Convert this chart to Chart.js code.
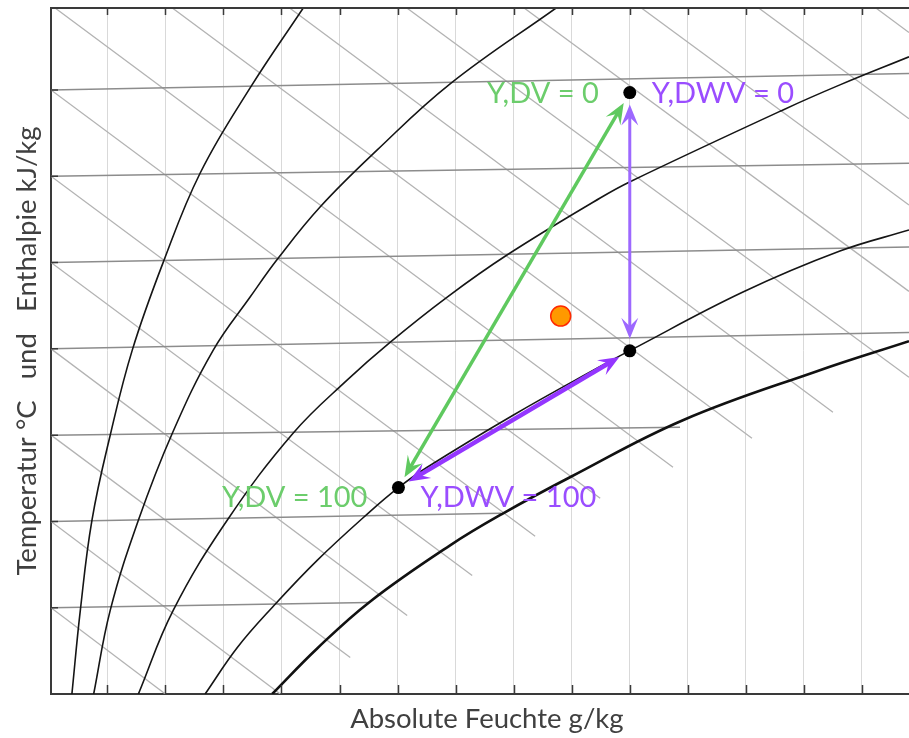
<!DOCTYPE html>
<html>
<head>
<meta charset="utf-8">
<script src="https://cdn.jsdelivr.net/npm/chart.js@4.4.1/dist/chart.umd.min.js"></script>
<style>
  html, body { margin: 0; padding: 0; background: #ffffff; }
  #wrap { width: 909px; height: 738px; }
</style>
</head>
<body>
<div id="wrap"><canvas id="hx" width="909" height="738"></canvas></div>
<script>
// ---- h,x-Diagramm: Werte ----
// Absolute Feuchte (g/kg): Rasterlinien alle 2 g/kg
const X_TICKS = [2, 4, 6, 8, 10, 12, 14, 16, 18, 20, 22, 24, 26, 28];
const X_RANGE = [0.06, 29.62];
// Temperatur (°C) an der linken Achse
const Y_TICKS = [-10, 0, 10, 20, 30, 40, 50];
const Y_RANGE = [-20, 59.5];

// Isothermen: Start auf der linken Achse bei der Temperatur, Ende [x, y]
const ISOTHERM_T = [-10, 0, 10, 20, 30, 40, 50];
const ISOTHERM_END = [[11.0, -9.4], [15.57, 0.94], [21.73, 10.9], [29.62, 21.9], [29.62, 31.8], [29.62, 41.5], [29.62, 51.9]];

// Isenthalpen (kJ/kg): Anfangs- und Endpunkt
const ENTHALPY_H = [-10, 0, 10, 20, 30, 40, 50, 60, 70, 80, 90, 100, 110, 120, 130];
const ENTHALPY_START = [[0.06, -10], [0.06, 0], [0.06, 10], [0.06, 20], [0.06, 30], [0.06, 40], [0.06, 50],
  [0.2, 59.5], [4.24, 59.5], [8.28, 59.5], [12.32, 59.5], [16.36, 59.5], [20.4, 59.5], [24.44, 59.5], [28.48, 59.5]];
const ENTHALPY_END = [[4.0, -20], [7.96, -20], [10.37, -15.77], [12.33, -10.9], [14.57, -6.26], [16.74, -1.73], [18.98, 2.68],
  [21.49, 6.28], [24.21, 9.64], [27.0, 12.66], [29.62, 16.7], [29.62, 26.66], [29.62, 36.66], [29.62, 46.66], [29.62, 56.66]];

// Linien gleicher relativer Feuchte, von trocken (links) bis Sättigung (rechts)
const RH_A = [[0.78, -20], [1.07, -10.31], [1.47, 0.13], [2.10, 9.99], [2.86, 19.85], [3.93, 30.06], [5.20, 40.38], [6.92, 50.24], [8.75, 59.5]];
const RH_B = [[1.53, -20], [2.10, -10.31], [3.07, 0.13], [4.24, 10.22], [5.65, 19.85], [6.92, 26.0], [7.89, 30.52], [9.33, 36.44], [11.30, 43.05], [13.81, 50.71], [17.46, 59.5]];
const RH_C = [[3.07, -20], [4.27, -10.31], [6.13, 0.13], [8.40, 10.22], [10.26, 16.37], [11.75, 20.78], [13.71, 26.0], [15.77, 30.87], [18.98, 37.48], [20.01, 39.37], [25.28, 47.69], [27.24, 50.59], [29.62, 53.84]];
const RH_D = [[5.37, -20], [6.48, -14.61], [7.68, -9.97], [9.23, -4.51], [11.06, 1.17], [12.03, 3.92], [13.02, 6.28], [15.98, 12.31], [18.87, 17.76], [19.99, 19.77], [23.90, 26.58], [27.24, 31.33], [29.62, 33.77]];
const SATURATION = [[7.68, -20], [9.23, -14.72], [11.06, -9.27], [13.81, -2.77], [15.64, 0.94], [17.94, 5.12], [21.83, 11.73], [26.45, 17.41], [29.62, 20.89]];

// Zustandspunkte
const STATE_X = [20.0, 20.0, 12.03];
const STATE_Y = [49.7, 19.77, 3.92];
const MARK_X = [17.62];
const MARK_Y = [23.8];

// Beschriftungen und Pfeile zwischen den Zustandspunkten
const LABEL_TEXT = ['Y,DV = 0', 'Y,DWV = 0', 'Y,DV = 100', 'Y,DWV = 100'];
const LABEL_AT = [0, 0, 2, 2];
const ARROW_FROM = [2, 0, 2];
const ARROW_TO = [0, 1, 1];

// ---- Darstellung ----
const GREEN = '#5fc95f';
const GREEN_TEXT = '#6ccd6c';
const PURPLE_TEXT = '#9a4dff';
const labelStyle = [
  { color: GREEN_TEXT, align: 'right', dx: -31, dy: 1 },
  { color: PURPLE_TEXT, align: 'left', dx: 22, dy: 1 },
  { color: GREEN_TEXT, align: 'right', dx: -31, dy: 10 },
  { color: PURPLE_TEXT, align: 'left', dx: 22, dy: 10 }
];
const arrowStyle = [
  { color: GREEN, width: 3.5 },
  { color: '#9d68ff', width: 3 },
  { color: '#9436ff', width: 4.5 }
];
const LABEL_FONT = '29px Lato';
const TITLE_FONT = { family: 'Lato', size: 27.5 };

const toPts = arr => arr.map(p => ({ x: p[0], y: p[1] }));
const datasets = [];

datasets.push({
  label: 'Zustand', data: STATE_X.map((x, i) => ({ x, y: STATE_Y[i] })),
  pointRadius: 6.5, pointBackgroundColor: '#000', pointBorderColor: '#000', pointBorderWidth: 0,
  showLine: false, order: 0
});
datasets.push({
  label: 'Messpunkt', data: MARK_X.map((x, i) => ({ x, y: MARK_Y[i] })),
  pointRadius: 10, pointBackgroundColor: '#ff9900', pointBorderColor: '#ff2a00', pointBorderWidth: 1.5,
  showLine: false, order: 0
});
[RH_A, RH_B, RH_C, RH_D].forEach((c, i) => datasets.push({
  label: 'phi' + i, data: toPts(c), showLine: true, borderColor: '#151515', borderWidth: 1.6,
  pointRadius: 0, tension: 0.4, order: 1
}));
datasets.push({
  label: 'Sättigung', data: toPts(SATURATION), showLine: true, borderColor: '#111', borderWidth: 2.6,
  pointRadius: 0, tension: 0.4, order: 1
});
ISOTHERM_T.forEach((t, i) => datasets.push({
  label: 't' + t, data: [{ x: X_RANGE[0], y: t }, { x: ISOTHERM_END[i][0], y: ISOTHERM_END[i][1] }],
  showLine: true, borderColor: '#8c8c8c', borderWidth: 1.5, pointRadius: 0, order: 2
}));
ENTHALPY_H.forEach((h, i) => datasets.push({
  label: 'h' + h, data: [toPts([ENTHALPY_START[i]])[0], toPts([ENTHALPY_END[i]])[0]],
  showLine: true, borderColor: '#b3b3b3', borderWidth: 1.3, pointRadius: 0, order: 3
}));

const framePlugin = {
  id: 'frame',
  afterDatasetsDraw(chart) {
    const { ctx, chartArea: a, scales: { x, y } } = chart;
    ctx.save();
    ctx.strokeStyle = '#3a3a3a';
    ctx.lineWidth = 2;
    ctx.beginPath();
    ctx.moveTo(a.left - 1, a.top); ctx.lineTo(a.right, a.top);
    ctx.stroke();
    ctx.lineWidth = 1.5;
    ctx.beginPath();
    X_TICKS.forEach(v => {
      const px = Math.round(x.getPixelForValue(v)) + 0.5;
      ctx.moveTo(px, a.bottom); ctx.lineTo(px, a.bottom - 9);
      ctx.moveTo(px, a.top); ctx.lineTo(px, a.top + 7);
    });
    Y_TICKS.forEach(v => {
      const py = y.getPixelForValue(v);
      ctx.moveTo(a.left, py); ctx.lineTo(a.left + 7, py);
    });
    ctx.stroke();

    // Pfeile
    const P = STATE_X.map((sx, i) => ({ x: x.getPixelForValue(sx), y: y.getPixelForValue(STATE_Y[i]) }));
    const gap = 12, headLen = 21, headHalf = 8.5;
    ARROW_FROM.forEach((f, i) => {
      const a0 = P[f], b0 = P[ARROW_TO[i]];
      const dx = b0.x - a0.x, dy = b0.y - a0.y, len = Math.hypot(dx, dy);
      const ux = dx / len, uy = dy / len;
      const s = { x: a0.x + ux * gap, y: a0.y + uy * gap };
      const e = { x: b0.x - ux * gap, y: b0.y - uy * gap };
      const st = arrowStyle[i];
      ctx.strokeStyle = st.color; ctx.fillStyle = st.color; ctx.lineWidth = st.width;
      ctx.lineCap = 'butt';
      ctx.beginPath();
      ctx.moveTo(s.x + ux * headLen * 0.5, s.y + uy * headLen * 0.5);
      ctx.lineTo(e.x - ux * headLen * 0.5, e.y - uy * headLen * 0.5);
      ctx.stroke();
      const ang = Math.atan2(uy, ux);
      [[e, ang], [s, ang + Math.PI]].forEach(([tip, an]) => {
        ctx.save();
        ctx.translate(tip.x, tip.y); ctx.rotate(an);
        ctx.beginPath();
        ctx.moveTo(0, 0);
        ctx.lineTo(-headLen, -headHalf);
        ctx.lineTo(-headLen * 0.6, 0);
        ctx.lineTo(-headLen, headHalf);
        ctx.closePath();
        ctx.fill();
        ctx.restore();
      });
    });

    // Beschriftungen
    ctx.font = LABEL_FONT;
    ctx.textBaseline = 'middle';
    LABEL_TEXT.forEach((t, i) => {
      const p = P[LABEL_AT[i]], st = labelStyle[i];
      ctx.fillStyle = st.color; ctx.textAlign = st.align;
      ctx.fillText(t, p.x + st.dx, p.y + st.dy);
    });
    ctx.restore();
  }
};

new Chart(document.getElementById('hx'), {
  type: 'scatter',
  data: { datasets },
  options: {
    responsive: false,
    devicePixelRatio: 1,
    animation: false,
    layout: { autoPadding: false, padding: { top: 8, right: 0, bottom: 0, left: 0 } },
    plugins: { legend: { display: false }, tooltip: { enabled: false } },
    scales: {
      x: {
        type: 'linear', min: X_RANGE[0], max: X_RANGE[1],
        afterBuildTicks: s => { s.ticks = X_TICKS.map(v => ({ value: v })); },
        afterFit: s => { s.height = 44; },
        ticks: { display: false },
        grid: { color: '#d9d9d9', lineWidth: 1, drawTicks: false },
        border: { display: true, color: '#3a3a3a', width: 2 },
        title: { display: true, text: '\u2002Absolute Feuchte g/kg', color: '#404040', font: TITLE_FONT, padding: { top: 0, bottom: 2 } }
      },
      y: {
        type: 'linear', min: Y_RANGE[0], max: Y_RANGE[1],
        afterBuildTicks: s => { s.ticks = Y_TICKS.map(v => ({ value: v })); },
        afterFit: s => { s.width = 51; },
        ticks: { display: false },
        grid: { display: false, drawTicks: false },
        border: { display: true, color: '#3a3a3a', width: 2 },
        title: { display: true, text: 'Temperatur °C   und   Enthalpie kJ/kg', color: '#404040', font: TITLE_FONT, padding: { top: 11, bottom: 0 } }
      }
    }
  },
  plugins: [framePlugin]
});
</script>
</body>
</html>
